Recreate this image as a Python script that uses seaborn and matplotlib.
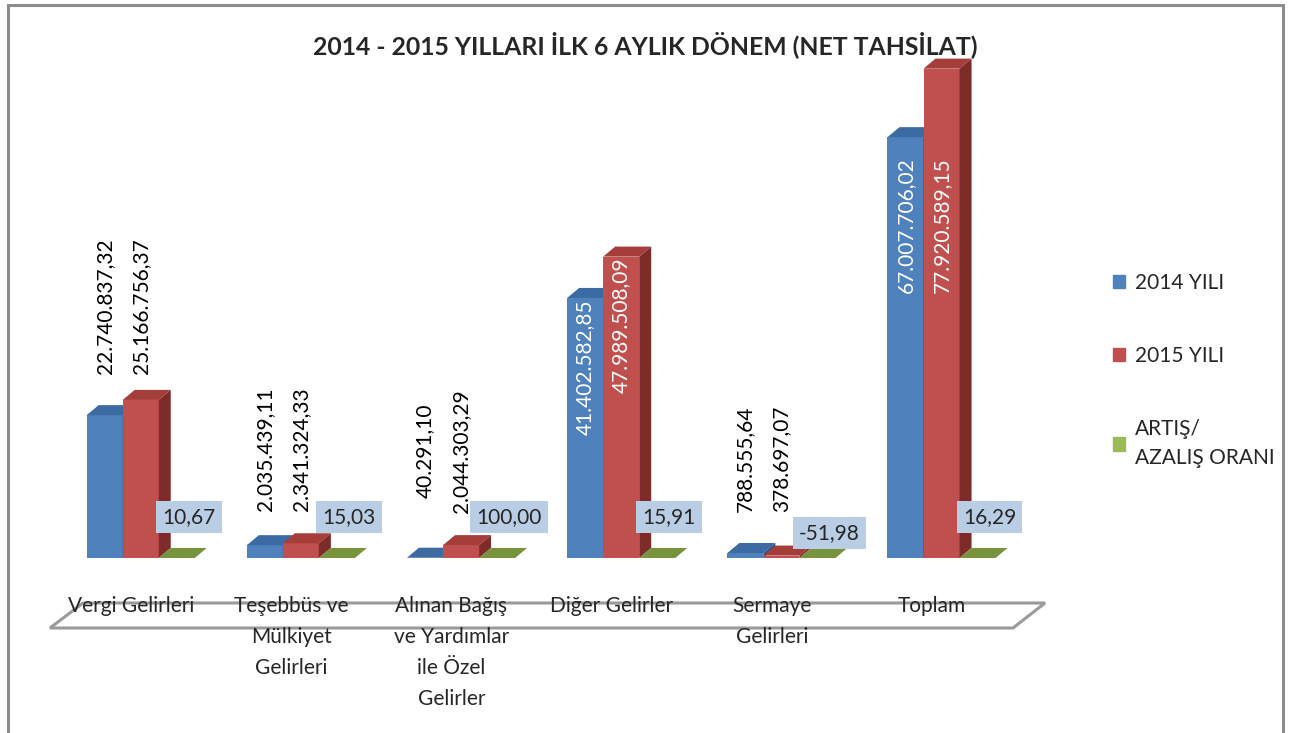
import matplotlib
matplotlib.use('Agg')
import matplotlib.pyplot as plt
from matplotlib.patches import Polygon, Rectangle
import pandas as pd
import seaborn as sns

# veriler
kategoriler = ['Vergi Gelirleri', 'Teşebbüs ve\nMülkiyet\nGelirleri',
               'Alınan Bağış\nve Yardımlar\nile Özel\nGelirler', 'Diğer Gelirler',
               'Sermaye\nGelirleri', 'Toplam']
yil_2014 = [22740837.32, 2035439.11, 40291.10, 41402582.85, 788555.64, 67007706.02]
yil_2015 = [25166756.37, 2341324.33, 2044303.29, 47989508.09, 378697.07, 77920589.15]
oran = [10.67, 15.03, 100.00, 15.91, -51.98, 16.29]
seriler = ['2014 YILI', '2015 YILI', 'ARTIŞ/\nAZALIŞ ORANI']

renkler = ['#4F81BD', '#C0504D', '#9BBB59']
ust_renk = ['#3C6AA3', '#A53E3B', '#77933C']
yan_renk = ['#2F5487', '#7E2C2A', '#5E7530']

sns.set_theme(style='white')
plt.rcParams['font.family'] = ['Lato', 'DejaVu Sans']


def tr_format(v):
    s = f'{v:,.2f}'
    return s.replace(',', 'X').replace('.', ',').replace('X', '.')


df = pd.DataFrame({
    'kategori': kategoriler * 3,
    'seri': [s for s in seriler for _ in kategoriler],
    'deger': yil_2014 + yil_2015 + oran,
})

W, H = 1301, 733
fig = plt.figure(figsize=(W / 100, H / 100), dpi=100)
ax = fig.add_axes([51 / W, 175 / H, 961 / W, 502.4 / H])
ax.patch.set_visible(False)

sns.barplot(data=df, x='kategori', y='deger', hue='seri', order=kategoriler,
            hue_order=seriler, palette=renkler, width=0.675, gap=0,
            saturation=1, linewidth=0, legend=False, ax=ax)

ax.set_xlim(-0.5, 5.5)
ax.set_ylim(0, 80e6)

# 3B görünüm: derinlik
dx = 0.075
dy = 1.6e6
kayma = 0.06
for j, cont in enumerate(ax.containers):
    for bar in cont:
        bar.set_x(bar.get_x() + kayma)
        bar.set_zorder(2 + j)
        x0 = bar.get_x()
        x1 = x0 + bar.get_width()
        h = max(bar.get_height(), 0)
        ust = Polygon([(x0, h), (x1, h), (x1 + dx, h + dy), (x0 + dx, h + dy)],
                      closed=True, fc=ust_renk[j], ec='none', zorder=2 + j)
        yan = Polygon([(x1, 0), (x1 + dx, dy), (x1 + dx, h + dy), (x1, h)],
                      closed=True, fc=yan_renk[j], ec='none', zorder=2 + j)
        ax.add_patch(ust)
        ax.add_patch(yan)

# değer etiketleri
fs = 15
for i in range(len(kategoriler)):
    grup_max = max(yil_2014[i], yil_2015[i])
    for j, vals in enumerate([yil_2014, yil_2015]):
        bar = ax.containers[j][i]
        xc = bar.get_x() + bar.get_width() / 2
        v = vals[i]
        if v > 30e6:
            ax.text(xc, min(v - 11e6, 53e6), tr_format(v), rotation=90,
                    ha='center', va='center', color='white', fontsize=fs, zorder=10)
        else:
            ax.text(xc, grup_max + 15e6, tr_format(v), rotation=90,
                    ha='center', va='center', color='black', fontsize=fs, zorder=10)
    g = ax.containers[2][i]
    xg = g.get_x() + g.get_width() / 2 + dx
    yg = 4e6 if oran[i] < 0 else 6.5e6
    ax.text(xg, yg, tr_format(oran[i]), ha='center', va='center', fontsize=fs,
            zorder=11, bbox=dict(boxstyle='square,pad=0.3', fc='#B9CDE5', ec='none'))

# eksen: kategori adları ayrı metin olarak (satır aralığı için)
ax.set_yticks([])
ax.set_xticks(range(len(kategoriler)), [''] * len(kategoriler))
ax.set_xticks([i - 0.5 for i in range(len(kategoriler) + 1)], minor=True)
ax.tick_params(axis='x', which='major', length=0)
ax.tick_params(axis='x', which='minor', length=8, width=1.8, color='#8C8C8C',
               direction='out')
for i, k in enumerate(kategoriler):
    ax.annotate(k, xy=(i, 0), xycoords=('data', 'axes fraction'),
                xytext=(0, -38), textcoords='offset pixels', ha='center', va='top',
                fontsize=fs, linespacing=1.68, multialignment='center',
                annotation_clip=False)
ax.set_xlabel('')
ax.set_ylabel('')
for sp in ax.spines.values():
    sp.set_visible(False)
ax.spines['bottom'].set_position(('outward', 7.2))
ax.spines['bottom'].set_visible(True)
ax.spines['bottom'].set_color('none')

# zemin
zemin = Polygon([(50 / W, 1 - 628 / H), (1013 / W, 1 - 628 / H),
                 (1045 / W, 1 - 603 / H), (83 / W, 1 - 603 / H)],
                closed=True, fc='white', ec='#9A9A9A', lw=2.2,
                transform=fig.transFigure, zorder=-1)
fig.add_artist(zemin)

# çerçeve
fig.add_artist(Rectangle((8 / W, -0.02), (1283 - 8) / W, 1.02 - 5 / H,
                         transform=fig.transFigure, fill=False,
                         ec='#8C8C8C', lw=2.2, zorder=-2))

fig.text(645 / W, 1 - 45 / H, '2014 - 2015 YILLARI İLK 6 AYLIK DÖNEM (NET TAHSİLAT)',
         ha='center', va='center', fontsize=17.8, fontweight='bold')

handles = [Rectangle((0, 0), 1, 1, color=c) for c in renkler]
leg = fig.legend(handles, seriler, loc='upper left', bbox_to_anchor=(1094 / W, 1 - 254 / H),
                 frameon=False, labelspacing=2.55, handlelength=0.6, handleheight=0.6,
                 handletextpad=0.45, fontsize=fs)
for t in leg.get_texts():
    t.set_linespacing(1.55)

fig.savefig('out.png', dpi=100)
